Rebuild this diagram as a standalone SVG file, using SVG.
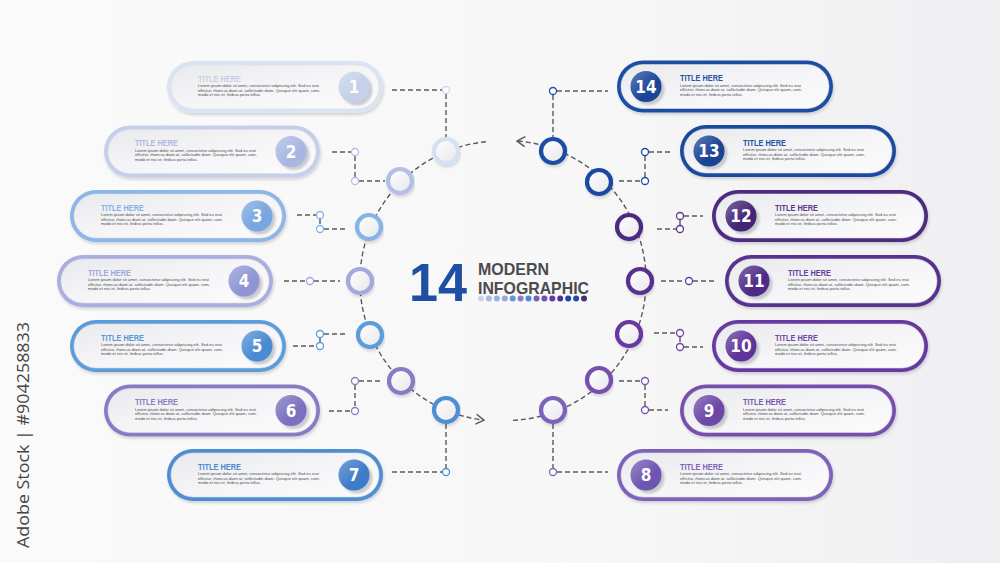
<svg xmlns="http://www.w3.org/2000/svg" width="1000" height="563" viewBox="0 0 1000 563">
<defs>
<linearGradient id="bg" x1="0" y1="0" x2="1" y2="0"><stop offset="0" stop-color="#fafafb"/><stop offset="0.6" stop-color="#f7f7f8"/><stop offset="1" stop-color="#efeff1"/></linearGradient>
<linearGradient id="inner" x1="0" y1="0" x2="1" y2="1"><stop offset="0" stop-color="#e9eaed"/><stop offset="0.5" stop-color="#f5f5f7"/><stop offset="1" stop-color="#fbfbfc"/></linearGradient>
<linearGradient id="gloss" x1="0" y1="0" x2="1" y2="1"><stop offset="0" stop-color="#fff" stop-opacity="0.3"/><stop offset="0.6" stop-color="#fff" stop-opacity="0"/></linearGradient>
<linearGradient id="ringFill" x1="0" y1="0" x2="1" y2="1"><stop offset="0" stop-color="#ffffff"/><stop offset="1" stop-color="#e6e7eb"/></linearGradient>
<filter id="sh" x="-10%" y="-20%" width="120%" height="150%"><feDropShadow dx="1" dy="2" stdDeviation="1.8" flood-color="#000" flood-opacity="0.16"/></filter>
<filter id="blur" x="-30%" y="-30%" width="160%" height="160%"><feGaussianBlur stdDeviation="1.2"/></filter>
<marker id="chev" viewBox="0 0 10 12" refX="9" refY="6" markerWidth="10" markerHeight="12" markerUnits="userSpaceOnUse" orient="auto"><path d="M1,1 L9,6 L1,11" fill="none" stroke="#555" stroke-width="1.4"/></marker>
<style>
.outer{filter:url(#sh)}
.inner{fill:url(#inner);stroke:#dcdde2;stroke-width:0.6}
.nsh{fill:#a9abb2;opacity:0.6;filter:url(#blur)}
.gl{fill:url(#gloss)}
.num{font-family:"DejaVu Sans Condensed","DejaVu Sans",sans-serif;font-weight:bold;font-size:17px;fill:#fff;text-anchor:middle}
.title{font-family:"Liberation Sans",Arial,sans-serif;font-weight:bold;font-size:8.5px}
.body{font-family:"Liberation Sans",Arial,sans-serif;font-size:4.3px;fill:#4a4a4a}
.ring{fill:url(#ringFill);stroke-width:4.2;filter:url(#sh)}
.dash{fill:none;stroke:#5a5a5a;stroke-width:1.4;stroke-dasharray:5 3}
.port{fill:#fff;stroke-width:1.3}
.big{font-family:"Liberation Sans",Arial,sans-serif;font-weight:bold}
</style>
</defs>
<rect width="1000" height="563" fill="url(#bg)"/>

<!-- connectors -->
<g id="connectors">
<path class="dash" d="M486,141.7 A140,140 0 0 0 484,420.1" marker-end="url(#chev)"/>
<path class="dash" d="M513,420.4 A140,140 0 0 0 517,141" marker-end="url(#chev)"/>
<path class="dash" d="M392,90 H442 M446,94 V137"/>
<path class="dash" d="M332,152 H351 M355,156 V177 M359,181 H385"/>
<path class="dash" d="M297,215 H316 M320,219 V225 M324,229 H347"/>
<path class="dash" d="M284,281 H306 M314,281 H340"/>
<path class="dash" d="M324,334 H347 M320,338 V342 M293,346 H316"/>
<path class="dash" d="M359,381 H380 M355,385 V407 M329,411 H351"/>
<path class="dash" d="M392,472 H442 M446,424 V468"/>
<path class="dash" d="M557,91 H608 M553,95 V137"/>
<path class="dash" d="M649,152 H672 M645,156 V177 M619,181 H641"/>
<path class="dash" d="M684,216 H703 M680,220 V225 M657,229 H676"/>
<path class="dash" d="M661,281 H685 M693,281 H715"/>
<path class="dash" d="M654,333 H676 M680,337 V343 M684,347 H703"/>
<path class="dash" d="M619,381 H641 M645,385 V406 M649,410 H668"/>
<path class="dash" d="M557,472 H608 M553,424 V468"/>
<circle class="port" cx="446" cy="90" r="3.5" stroke="#c9d8ee"/>
<circle class="port" cx="355" cy="152" r="3.5" stroke="#b3c0e6"/>
<circle class="port" cx="355" cy="181" r="3.5" stroke="#b3c0e6"/>
<circle class="port" cx="320" cy="215" r="3.5" stroke="#86b1e4"/>
<circle class="port" cx="320" cy="229" r="3.5" stroke="#86b1e4"/>
<circle class="port" cx="310" cy="281" r="3.5" stroke="#a0a5dc"/>
<circle class="port" cx="320" cy="334" r="3.5" stroke="#5c9cdb"/>
<circle class="port" cx="320" cy="346" r="3.5" stroke="#5c9cdb"/>
<circle class="port" cx="355" cy="381" r="3.5" stroke="#867cc6"/>
<circle class="port" cx="355" cy="411" r="3.5" stroke="#867cc6"/>
<circle class="port" cx="446" cy="472" r="3.5" stroke="#4f8ed2"/>
<circle class="port" cx="553" cy="91" r="3.5" stroke="#1f4ea4"/>
<circle class="port" cx="645" cy="152" r="3.5" stroke="#1d4aa0"/>
<circle class="port" cx="645" cy="181" r="3.5" stroke="#1d4aa0"/>
<circle class="port" cx="680" cy="216" r="3.5" stroke="#5a3590"/>
<circle class="port" cx="680" cy="229" r="3.5" stroke="#5a3590"/>
<circle class="port" cx="689" cy="281" r="3.5" stroke="#6238a0"/>
<circle class="port" cx="680" cy="333" r="3.5" stroke="#6c40a6"/>
<circle class="port" cx="680" cy="347" r="3.5" stroke="#6c40a6"/>
<circle class="port" cx="645" cy="381" r="3.5" stroke="#7650ae"/>
<circle class="port" cx="645" cy="410" r="3.5" stroke="#7650ae"/>
<circle class="port" cx="553" cy="472" r="3.5" stroke="#7b62bb"/>
</g>

<!-- center title -->
<g id="center-title">
<text class="big" x="409" y="301" font-size="54" fill="#1f4fa3" textLength="58" lengthAdjust="spacingAndGlyphs">14</text>
<text class="big" x="478" y="274.5" font-size="16.5" fill="#4b4b4d" textLength="71" lengthAdjust="spacingAndGlyphs">MODERN</text>
<text class="big" x="478" y="293.5" font-size="16.5" fill="#4b4b4d" textLength="111" lengthAdjust="spacingAndGlyphs">INFOGRAPHIC</text>
<g id="dots">
<circle cx="481" cy="298.5" r="3" fill="#c8d3ec"/>
<circle cx="488.9" cy="298.5" r="3" fill="#a9b7e2"/>
<circle cx="496.8" cy="298.5" r="3" fill="#8fb4e6"/>
<circle cx="504.8" cy="298.5" r="3" fill="#9fa3d8"/>
<circle cx="512.7" cy="298.5" r="3" fill="#5b9ad8"/>
<circle cx="520.6" cy="298.5" r="3" fill="#8a7fc8"/>
<circle cx="528.5" cy="298.5" r="3" fill="#4d8bd0"/>
<circle cx="536.5" cy="298.5" r="3" fill="#7a5db8"/>
<circle cx="544.4" cy="298.5" r="3" fill="#7450ae"/>
<circle cx="552.3" cy="298.5" r="3" fill="#6738a2"/>
<circle cx="560.2" cy="298.5" r="3" fill="#57308e"/>
<circle cx="568.2" cy="298.5" r="3" fill="#1d4aa0"/>
<circle cx="576.1" cy="298.5" r="3" fill="#1f4ea4"/>
<circle cx="584" cy="298.5" r="3" fill="#4b2a80"/>
</g>
</g>

<!-- left steps -->
<g id="step-1">
<circle class="ring" cx="446" cy="151" r="12" stroke="#d3e2f3"/>
<g transform="translate(167,61)">
<rect class="outer" width="216" height="52" rx="26" fill="#dae4f2"/>
<rect class="inner" x="4" y="4" width="208" height="44" rx="22"/>
<circle class="nsh" cx="190" cy="29" r="15.5"/>
<circle cx="187" cy="26" r="15.5" fill="#c5d1e9"/><circle class="gl" cx="187" cy="26" r="15.5"/>
<text class="num" x="187" y="32">1</text>
<text class="title" x="31" y="20.5" fill="#c6cfe3" textLength="43" lengthAdjust="spacingAndGlyphs">TITLE HERE</text>
<text class="body" x="31" y="26" textLength="121" lengthAdjust="spacingAndGlyphs">Lorem ipsum dolor sit amet, consectetur adipiscing elit. Sed eu erat</text>
<text class="body" x="31" y="30.5" textLength="122" lengthAdjust="spacingAndGlyphs">efficitur, rhoncus diam at, sollicitudin diam. Quisque elit quam, com-</text>
<text class="body" x="31" y="35" textLength="63" lengthAdjust="spacingAndGlyphs">modo et nisi et, finibus porta tellus.</text>
</g>
</g>

<g id="step-2">
<circle class="ring" cx="400" cy="181" r="12" stroke="#b3bfe6"/>
<g transform="translate(104,125.5)">
<rect class="outer" width="216" height="52" rx="26" fill="#c5cfec"/>
<rect class="inner" x="4" y="4" width="208" height="44" rx="22"/>
<circle class="nsh" cx="190" cy="29" r="15.5"/>
<circle cx="187" cy="26" r="15.5" fill="#a8b6e1"/><circle class="gl" cx="187" cy="26" r="15.5"/>
<text class="num" x="187" y="32">2</text>
<text class="title" x="31" y="20.5" fill="#adb8de" textLength="43" lengthAdjust="spacingAndGlyphs">TITLE HERE</text>
<text class="body" x="31" y="26" textLength="121" lengthAdjust="spacingAndGlyphs">Lorem ipsum dolor sit amet, consectetur adipiscing elit. Sed eu erat</text>
<text class="body" x="31" y="30.5" textLength="122" lengthAdjust="spacingAndGlyphs">efficitur, rhoncus diam at, sollicitudin diam. Quisque elit quam, com-</text>
<text class="body" x="31" y="35" textLength="63" lengthAdjust="spacingAndGlyphs">modo et nisi et, finibus porta tellus.</text>
</g>
</g>

<g id="step-3">
<circle class="ring" cx="369" cy="227" r="12" stroke="#86b4e6"/>
<g transform="translate(70,190)">
<rect class="outer" width="216" height="52" rx="26" fill="#8cb6e6"/>
<rect class="inner" x="4" y="4" width="208" height="44" rx="22"/>
<circle class="nsh" cx="190" cy="29" r="15.5"/>
<circle cx="187" cy="26" r="15.5" fill="#78a6de"/><circle class="gl" cx="187" cy="26" r="15.5"/>
<text class="num" x="187" y="32">3</text>
<text class="title" x="31" y="20.5" fill="#86b1e6" textLength="43" lengthAdjust="spacingAndGlyphs">TITLE HERE</text>
<text class="body" x="31" y="26" textLength="121" lengthAdjust="spacingAndGlyphs">Lorem ipsum dolor sit amet, consectetur adipiscing elit. Sed eu erat</text>
<text class="body" x="31" y="30.5" textLength="122" lengthAdjust="spacingAndGlyphs">efficitur, rhoncus diam at, sollicitudin diam. Quisque elit quam, com-</text>
<text class="body" x="31" y="35" textLength="63" lengthAdjust="spacingAndGlyphs">modo et nisi et, finibus porta tellus.</text>
</g>
</g>

<g id="step-4">
<circle class="ring" cx="360" cy="281" r="12" stroke="#a3a8dd"/>
<g transform="translate(57,255)">
<rect class="outer" width="216" height="52" rx="26" fill="#aaaddf"/>
<rect class="inner" x="4" y="4" width="208" height="44" rx="22"/>
<circle class="nsh" cx="190" cy="29" r="15.5"/>
<circle cx="187" cy="26" r="15.5" fill="#8f95d4"/><circle class="gl" cx="187" cy="26" r="15.5"/>
<text class="num" x="187" y="32">4</text>
<text class="title" x="31" y="20.5" fill="#a1a6db" textLength="43" lengthAdjust="spacingAndGlyphs">TITLE HERE</text>
<text class="body" x="31" y="26" textLength="121" lengthAdjust="spacingAndGlyphs">Lorem ipsum dolor sit amet, consectetur adipiscing elit. Sed eu erat</text>
<text class="body" x="31" y="30.5" textLength="122" lengthAdjust="spacingAndGlyphs">efficitur, rhoncus diam at, sollicitudin diam. Quisque elit quam, com-</text>
<text class="body" x="31" y="35" textLength="63" lengthAdjust="spacingAndGlyphs">modo et nisi et, finibus porta tellus.</text>
</g>
</g>

<g id="step-5">
<circle class="ring" cx="370" cy="335" r="12" stroke="#5c9cdb"/>
<g transform="translate(70,320)">
<rect class="outer" width="216" height="52" rx="26" fill="#5c9cdb"/>
<rect class="inner" x="4" y="4" width="208" height="44" rx="22"/>
<circle class="nsh" cx="190" cy="29" r="15.5"/>
<circle cx="187" cy="26" r="15.5" fill="#4b8bd3"/><circle class="gl" cx="187" cy="26" r="15.5"/>
<text class="num" x="187" y="32">5</text>
<text class="title" x="31" y="20.5" fill="#5797d9" textLength="43" lengthAdjust="spacingAndGlyphs">TITLE HERE</text>
<text class="body" x="31" y="26" textLength="121" lengthAdjust="spacingAndGlyphs">Lorem ipsum dolor sit amet, consectetur adipiscing elit. Sed eu erat</text>
<text class="body" x="31" y="30.5" textLength="122" lengthAdjust="spacingAndGlyphs">efficitur, rhoncus diam at, sollicitudin diam. Quisque elit quam, com-</text>
<text class="body" x="31" y="35" textLength="63" lengthAdjust="spacingAndGlyphs">modo et nisi et, finibus porta tellus.</text>
</g>
</g>

<g id="step-6">
<circle class="ring" cx="401" cy="381" r="12" stroke="#867cc6"/>
<g transform="translate(104,384.5)">
<rect class="outer" width="216" height="52" rx="26" fill="#867cc6"/>
<rect class="inner" x="4" y="4" width="208" height="44" rx="22"/>
<circle class="nsh" cx="190" cy="29" r="15.5"/>
<circle cx="187" cy="26" r="15.5" fill="#7b70be"/><circle class="gl" cx="187" cy="26" r="15.5"/>
<text class="num" x="187" y="32">6</text>
<text class="title" x="31" y="20.5" fill="#887ec6" textLength="43" lengthAdjust="spacingAndGlyphs">TITLE HERE</text>
<text class="body" x="31" y="26" textLength="121" lengthAdjust="spacingAndGlyphs">Lorem ipsum dolor sit amet, consectetur adipiscing elit. Sed eu erat</text>
<text class="body" x="31" y="30.5" textLength="122" lengthAdjust="spacingAndGlyphs">efficitur, rhoncus diam at, sollicitudin diam. Quisque elit quam, com-</text>
<text class="body" x="31" y="35" textLength="63" lengthAdjust="spacingAndGlyphs">modo et nisi et, finibus porta tellus.</text>
</g>
</g>

<g id="step-7">
<circle class="ring" cx="446" cy="410" r="12" stroke="#4f8ed2"/>
<g transform="translate(167,449)">
<rect class="outer" width="216" height="52" rx="26" fill="#4f8ed2"/>
<rect class="inner" x="4" y="4" width="208" height="44" rx="22"/>
<circle class="nsh" cx="190" cy="29" r="15.5"/>
<circle cx="187" cy="26" r="15.5" fill="#3d7cc6"/><circle class="gl" cx="187" cy="26" r="15.5"/>
<text class="num" x="187" y="32">7</text>
<text class="title" x="31" y="20.5" fill="#4a88cf" textLength="43" lengthAdjust="spacingAndGlyphs">TITLE HERE</text>
<text class="body" x="31" y="26" textLength="121" lengthAdjust="spacingAndGlyphs">Lorem ipsum dolor sit amet, consectetur adipiscing elit. Sed eu erat</text>
<text class="body" x="31" y="30.5" textLength="122" lengthAdjust="spacingAndGlyphs">efficitur, rhoncus diam at, sollicitudin diam. Quisque elit quam, com-</text>
<text class="body" x="31" y="35" textLength="63" lengthAdjust="spacingAndGlyphs">modo et nisi et, finibus porta tellus.</text>
</g>
</g>

<!-- right steps -->
<g id="step-14">
<circle class="ring" cx="553" cy="151" r="12" stroke="#1f4ea4"/>
<g transform="translate(617,60.5)">
<rect class="outer" width="216" height="52" rx="26" fill="#1f4ea4"/>
<rect class="inner" x="4" y="4" width="208" height="44" rx="22"/>
<circle class="nsh" cx="32" cy="29" r="15.5"/>
<circle cx="29" cy="26" r="15.5" fill="#1b4698"/><circle class="gl" cx="29" cy="26" r="15.5"/>
<text class="num" x="29" y="32">14</text>
<text class="title" x="63" y="20.5" fill="#2353a8" textLength="43" lengthAdjust="spacingAndGlyphs">TITLE HERE</text>
<text class="body" x="63" y="26" textLength="121" lengthAdjust="spacingAndGlyphs">Lorem ipsum dolor sit amet, consectetur adipiscing elit. Sed eu erat</text>
<text class="body" x="63" y="30.5" textLength="122" lengthAdjust="spacingAndGlyphs">efficitur, rhoncus diam at, sollicitudin diam. Quisque elit quam, com-</text>
<text class="body" x="63" y="35" textLength="63" lengthAdjust="spacingAndGlyphs">modo et nisi et, finibus porta tellus.</text>
</g>
</g>

<g id="step-13">
<circle class="ring" cx="599" cy="182" r="12" stroke="#1d4aa0"/>
<g transform="translate(680,125)">
<rect class="outer" width="216" height="52" rx="26" fill="#1d4aa0"/>
<rect class="inner" x="4" y="4" width="208" height="44" rx="22"/>
<circle class="nsh" cx="32" cy="29" r="15.5"/>
<circle cx="29" cy="26" r="15.5" fill="#1a4394"/><circle class="gl" cx="29" cy="26" r="15.5"/>
<text class="num" x="29" y="32">13</text>
<text class="title" x="63" y="20.5" fill="#2151a6" textLength="43" lengthAdjust="spacingAndGlyphs">TITLE HERE</text>
<text class="body" x="63" y="26" textLength="121" lengthAdjust="spacingAndGlyphs">Lorem ipsum dolor sit amet, consectetur adipiscing elit. Sed eu erat</text>
<text class="body" x="63" y="30.5" textLength="122" lengthAdjust="spacingAndGlyphs">efficitur, rhoncus diam at, sollicitudin diam. Quisque elit quam, com-</text>
<text class="body" x="63" y="35" textLength="63" lengthAdjust="spacingAndGlyphs">modo et nisi et, finibus porta tellus.</text>
</g>
</g>

<g id="step-12">
<circle class="ring" cx="629" cy="227" r="12" stroke="#4b2a80"/>
<g transform="translate(712,190)">
<rect class="outer" width="216" height="52" rx="26" fill="#4b2a80"/>
<rect class="inner" x="4" y="4" width="208" height="44" rx="22"/>
<circle class="nsh" cx="32" cy="29" r="15.5"/>
<circle cx="29" cy="26" r="15.5" fill="#442677"/><circle class="gl" cx="29" cy="26" r="15.5"/>
<text class="num" x="29" y="32">12</text>
<text class="title" x="63" y="20.5" fill="#5b3592" textLength="43" lengthAdjust="spacingAndGlyphs">TITLE HERE</text>
<text class="body" x="63" y="26" textLength="121" lengthAdjust="spacingAndGlyphs">Lorem ipsum dolor sit amet, consectetur adipiscing elit. Sed eu erat</text>
<text class="body" x="63" y="30.5" textLength="122" lengthAdjust="spacingAndGlyphs">efficitur, rhoncus diam at, sollicitudin diam. Quisque elit quam, com-</text>
<text class="body" x="63" y="35" textLength="63" lengthAdjust="spacingAndGlyphs">modo et nisi et, finibus porta tellus.</text>
</g>
</g>

<g id="step-11">
<circle class="ring" cx="640" cy="281" r="12" stroke="#57308e"/>
<g transform="translate(725,255)">
<rect class="outer" width="216" height="52" rx="26" fill="#57308e"/>
<rect class="inner" x="4" y="4" width="208" height="44" rx="22"/>
<circle class="nsh" cx="32" cy="29" r="15.5"/>
<circle cx="29" cy="26" r="15.5" fill="#4f2a86"/><circle class="gl" cx="29" cy="26" r="15.5"/>
<text class="num" x="29" y="32">11</text>
<text class="title" x="63" y="20.5" fill="#6540a0" textLength="43" lengthAdjust="spacingAndGlyphs">TITLE HERE</text>
<text class="body" x="63" y="26" textLength="121" lengthAdjust="spacingAndGlyphs">Lorem ipsum dolor sit amet, consectetur adipiscing elit. Sed eu erat</text>
<text class="body" x="63" y="30.5" textLength="122" lengthAdjust="spacingAndGlyphs">efficitur, rhoncus diam at, sollicitudin diam. Quisque elit quam, com-</text>
<text class="body" x="63" y="35" textLength="63" lengthAdjust="spacingAndGlyphs">modo et nisi et, finibus porta tellus.</text>
</g>
</g>

<g id="step-10">
<circle class="ring" cx="629" cy="334" r="12" stroke="#6738a2"/>
<g transform="translate(712,320)">
<rect class="outer" width="216" height="52" rx="26" fill="#6738a2"/>
<rect class="inner" x="4" y="4" width="208" height="44" rx="22"/>
<circle class="nsh" cx="32" cy="29" r="15.5"/>
<circle cx="29" cy="26" r="15.5" fill="#5f3399"/><circle class="gl" cx="29" cy="26" r="15.5"/>
<text class="num" x="29" y="32">10</text>
<text class="title" x="63" y="20.5" fill="#7048aa" textLength="43" lengthAdjust="spacingAndGlyphs">TITLE HERE</text>
<text class="body" x="63" y="26" textLength="121" lengthAdjust="spacingAndGlyphs">Lorem ipsum dolor sit amet, consectetur adipiscing elit. Sed eu erat</text>
<text class="body" x="63" y="30.5" textLength="122" lengthAdjust="spacingAndGlyphs">efficitur, rhoncus diam at, sollicitudin diam. Quisque elit quam, com-</text>
<text class="body" x="63" y="35" textLength="63" lengthAdjust="spacingAndGlyphs">modo et nisi et, finibus porta tellus.</text>
</g>
</g>

<g id="step-9">
<circle class="ring" cx="599" cy="380" r="12" stroke="#7650ae"/>
<g transform="translate(680,384.5)">
<rect class="outer" width="216" height="52" rx="26" fill="#7650ae"/>
<rect class="inner" x="4" y="4" width="208" height="44" rx="22"/>
<circle class="nsh" cx="32" cy="29" r="15.5"/>
<circle cx="29" cy="26" r="15.5" fill="#6c47a6"/><circle class="gl" cx="29" cy="26" r="15.5"/>
<text class="num" x="29" y="32">9</text>
<text class="title" x="63" y="20.5" fill="#7a58b2" textLength="43" lengthAdjust="spacingAndGlyphs">TITLE HERE</text>
<text class="body" x="63" y="26" textLength="121" lengthAdjust="spacingAndGlyphs">Lorem ipsum dolor sit amet, consectetur adipiscing elit. Sed eu erat</text>
<text class="body" x="63" y="30.5" textLength="122" lengthAdjust="spacingAndGlyphs">efficitur, rhoncus diam at, sollicitudin diam. Quisque elit quam, com-</text>
<text class="body" x="63" y="35" textLength="63" lengthAdjust="spacingAndGlyphs">modo et nisi et, finibus porta tellus.</text>
</g>
</g>

<g id="step-8">
<circle class="ring" cx="553" cy="410" r="12" stroke="#7b62bb"/>
<g transform="translate(617,449)">
<rect class="outer" width="216" height="52" rx="26" fill="#7b62bb"/>
<rect class="inner" x="4" y="4" width="208" height="44" rx="22"/>
<circle class="nsh" cx="32" cy="29" r="15.5"/>
<circle cx="29" cy="26" r="15.5" fill="#6d55b1"/><circle class="gl" cx="29" cy="26" r="15.5"/>
<text class="num" x="29" y="32">8</text>
<text class="title" x="63" y="20.5" fill="#7c64bc" textLength="43" lengthAdjust="spacingAndGlyphs">TITLE HERE</text>
<text class="body" x="63" y="26" textLength="121" lengthAdjust="spacingAndGlyphs">Lorem ipsum dolor sit amet, consectetur adipiscing elit. Sed eu erat</text>
<text class="body" x="63" y="30.5" textLength="122" lengthAdjust="spacingAndGlyphs">efficitur, rhoncus diam at, sollicitudin diam. Quisque elit quam, com-</text>
<text class="body" x="63" y="35" textLength="63" lengthAdjust="spacingAndGlyphs">modo et nisi et, finibus porta tellus.</text>
</g>
</g>

<text x="29" y="548" transform="rotate(-90 29 548)" font-family="'Open Sans','Liberation Sans',sans-serif" font-size="17" fill="#444" textLength="226" lengthAdjust="spacingAndGlyphs">Adobe Stock | #904258833</text>
</svg>
